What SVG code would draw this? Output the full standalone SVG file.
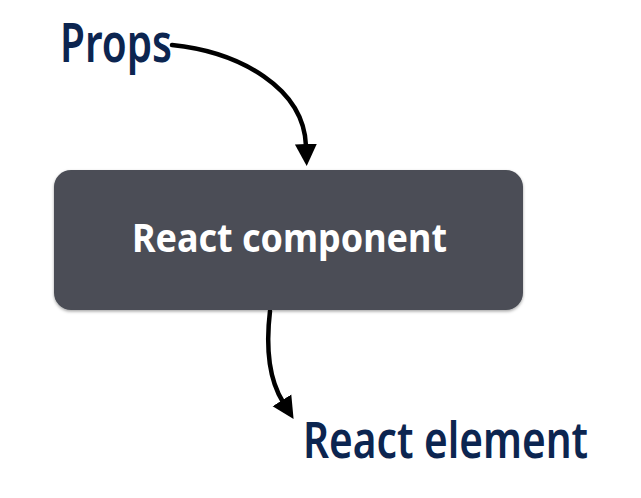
<svg xmlns="http://www.w3.org/2000/svg" width="641" height="498" viewBox="0 0 641 498">
<style>
.lbl{font-family:"Noto Sans","Open Sans",sans-serif;fill:#0c2550;font-weight:600}
.edge{fill:none;stroke:#000;stroke-width:4.5;stroke-linecap:round}
.node-text{font-family:"Noto Sans","Open Sans",sans-serif;fill:#fff;font-weight:700}
</style>
<defs>
<marker id="ah" markerUnits="userSpaceOnUse" markerWidth="24" markerHeight="24" viewBox="0 0 24 24" refX="2" refY="12" orient="auto">
<path d="M0,1 L22,12 L0,23 Z" fill="#000"/>
</marker>
<filter id="sh" x="-5%" y="-5%" width="110%" height="115%">
<feDropShadow dx="0" dy="1.5" stdDeviation="1.5" flood-color="#000" flood-opacity="0.35"/>
</filter>
</defs>
<rect width="641" height="498" fill="#fff"/>
<g id="edges">
<path class="edge" d="M172,45 C240,52 304,88 306,146" marker-end="url(#ah)"/>
<path class="edge" d="M270,311 C266,345 268,378 283,402" marker-end="url(#ah)"/>
</g>
<g id="props">
<text class="lbl" x="60" y="62" font-size="55" textLength="112" lengthAdjust="spacingAndGlyphs">Props</text>
</g>
<g id="component">
<rect x="54" y="170" width="469" height="140" rx="17" fill="#4b4e56" filter="url(#sh)"/>
<text class="node-text" x="132" y="252" font-size="39" textLength="315" lengthAdjust="spacingAndGlyphs">React component</text>
</g>
<g id="element">
<text class="lbl" x="303" y="458" font-size="50" textLength="285" lengthAdjust="spacingAndGlyphs">React element</text>
</g>
</svg>
